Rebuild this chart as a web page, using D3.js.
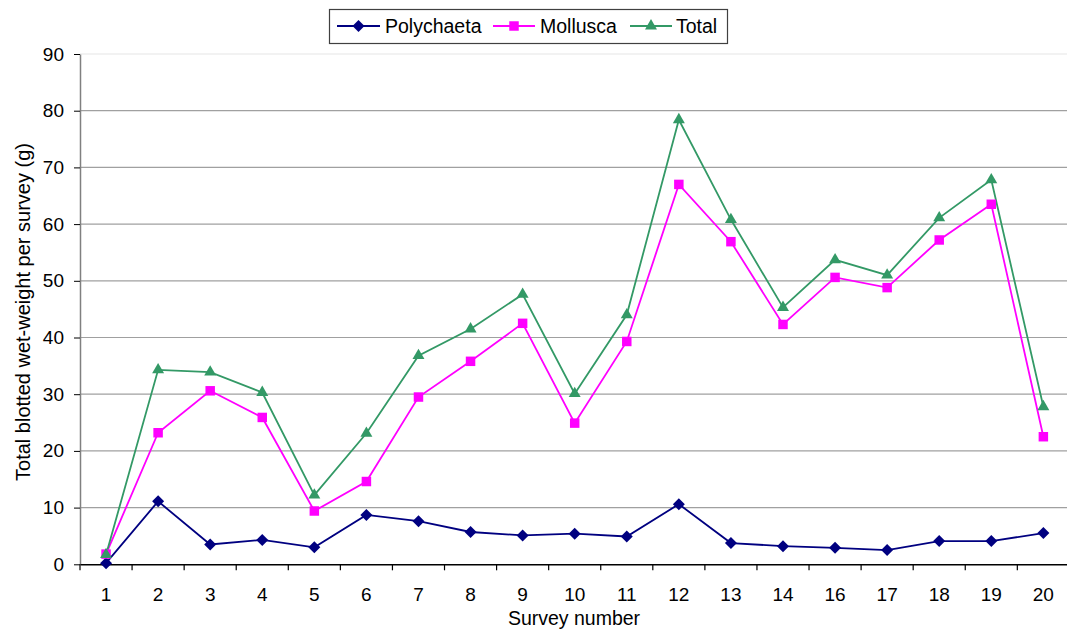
<!DOCTYPE html>
<html>
<head>
<meta charset="utf-8">
<script src="https://cdn.jsdelivr.net/npm/d3@7/dist/d3.min.js"></script>
<style>
  html, body { margin: 0; padding: 0; background: #fff; }
  svg { display: block; font-family: "Liberation Sans", Arial, sans-serif; }
</style>
</head>
<body>
<svg id="chart" width="1067" height="631"></svg>
<script>
const categories = ["1","2","3","4","5","6","7","8","9","10","11","12","13","14","16","17","18","19","20"];
const polychaeta = [0.2, 11.1, 3.5, 4.3, 3.0, 8.7, 7.6, 5.7, 5.1, 5.4, 4.9, 10.6, 3.75, 3.2, 2.9, 2.5, 4.1, 4.1, 5.5];
const mollusca   = [1.8, 23.2, 30.6, 25.9, 9.4, 14.6, 29.5, 35.8, 42.5, 24.9, 39.3, 67.0, 56.9, 42.3, 50.6, 48.8, 57.2, 63.5, 22.5];
const total      = [1.7, 34.3, 33.9, 30.3, 12.2, 23.1, 36.8, 41.5, 47.6, 30.1, 44.0, 78.4, 60.8, 45.3, 53.7, 51.0, 61.1, 67.8, 27.8];
const yTicks = [0, 10, 20, 30, 40, 50, 60, 70, 80, 90];
const seriesNames = ["Polychaeta", "Mollusca", "Total"];

(function () {
const series = [
  { name: seriesNames[0], values: polychaeta, color: "#000080", symbol: d3.symbolSquare,   size: 72, rot: 45 },
  { name: seriesNames[1], values: mollusca,   color: "#FF00FF", symbol: d3.symbolSquare,   size: 90, rot: 0 },
  { name: seriesNames[2], values: total,      color: "#339966", symbol: d3.symbolTriangle, size: 62, rot: 0 }
];

const svg = d3.select("#chart");
const pLeft = 80, pRight = 1069.4, pTop = 54, pBottom = 564.3;

const x = d3.scaleBand().domain(categories).range([pLeft, pRight]).padding(0);
const y = d3.scaleLinear().domain([0, 90]).range([pBottom, pTop]);

// gridlines
svg.append("g").selectAll("line")
  .data(yTicks.filter(d => d > 0))
  .join("line")
  .attr("x1", pLeft).attr("x2", pRight)
  .attr("y1", d => y(d)).attr("y2", d => y(d))
  .attr("stroke", d => d === 90 ? "#e6e6e6" : "#a0a0a0")
  .attr("stroke-width", 1.2);

// y axis
const yAxis = d3.axisLeft(y).tickValues(yTicks).tickSize(6).tickPadding(10).tickSizeOuter(0);
const gy = svg.append("g").attr("transform", `translate(${pLeft},0)`).call(yAxis);
gy.select(".domain").attr("stroke", "#808080").attr("stroke-width", 1.5);
gy.selectAll(".tick line").attr("stroke", "#000");
gy.selectAll(".tick text").attr("font-size", 19).attr("fill", "#000")
  .attr("font-family", "'Liberation Sans', Arial, sans-serif");

// x axis
const xAxis = d3.axisBottom(x).tickSize(0).tickPadding(23).tickSizeOuter(0);
const gx = svg.append("g").attr("transform", `translate(0,${pBottom})`).call(xAxis);
gx.select(".domain").attr("stroke", "#000").attr("stroke-width", 1.5);
gx.selectAll(".tick text").attr("font-size", 19).attr("fill", "#000")
  .attr("font-family", "'Liberation Sans', Arial, sans-serif");
// category boundary ticks
svg.append("g").selectAll("line")
  .data(categories)
  .join("line")
  .attr("x1", d => x(d)).attr("x2", d => x(d))
  .attr("y1", pBottom).attr("y2", pBottom + 6)
  .attr("stroke", "#000").attr("stroke-width", 1.2);

// lines and markers
const line = d3.line().x((d, i) => x(categories[i]) + x.bandwidth() / 2).y(d => y(d));
series.forEach(s => {
  svg.append("path")
    .datum(s.values)
    .attr("d", line)
    .attr("fill", "none")
    .attr("stroke", s.color)
    .attr("stroke-width", 1.8);
});
series.forEach(s => {
  svg.append("g").selectAll("path")
    .data(s.values)
    .join("path")
    .attr("d", d3.symbol().type(s.symbol).size(s.size))
    .attr("transform", (d, i) => `translate(${x(categories[i]) + x.bandwidth() / 2},${y(d)}) rotate(${s.rot})`)
    .attr("fill", s.color);
});

// axis titles
svg.append("text")
  .attr("x", 574).attr("y", 625)
  .attr("text-anchor", "middle")
  .attr("font-size", 19.5)
  .text("Survey number");
svg.append("text")
  .attr("transform", "translate(30,312) rotate(-90)")
  .attr("text-anchor", "middle")
  .attr("font-size", 20)
  .text("Total blotted wet-weight per survey (g)");

// legend
const lg = svg.append("g");
lg.append("rect")
  .attr("x", 329.5).attr("y", 9.5).attr("width", 398).attr("height", 34)
  .attr("fill", "#fff").attr("stroke", "#404040").attr("stroke-width", 1.2);
const legendItems = [
  { x1: 337, x2: 380, tx: 385 },
  { x1: 493, x2: 535, tx: 540 },
  { x1: 630, x2: 672, tx: 676 }
];
series.forEach((s, i) => {
  const it = legendItems[i];
  lg.append("line").attr("x1", it.x1).attr("x2", it.x2).attr("y1", 26).attr("y2", 26)
    .attr("stroke", s.color).attr("stroke-width", 1.8);
  lg.append("path")
    .attr("d", d3.symbol().type(s.symbol).size(s.size))
    .attr("transform", `translate(${(it.x1 + it.x2) / 2},26) rotate(${s.rot})`)
    .attr("fill", s.color);
  lg.append("text").attr("x", it.tx).attr("y", 32.5)
    .attr("font-size", 19.5).text(s.name);
});
})();
</script>
</body>
</html>
